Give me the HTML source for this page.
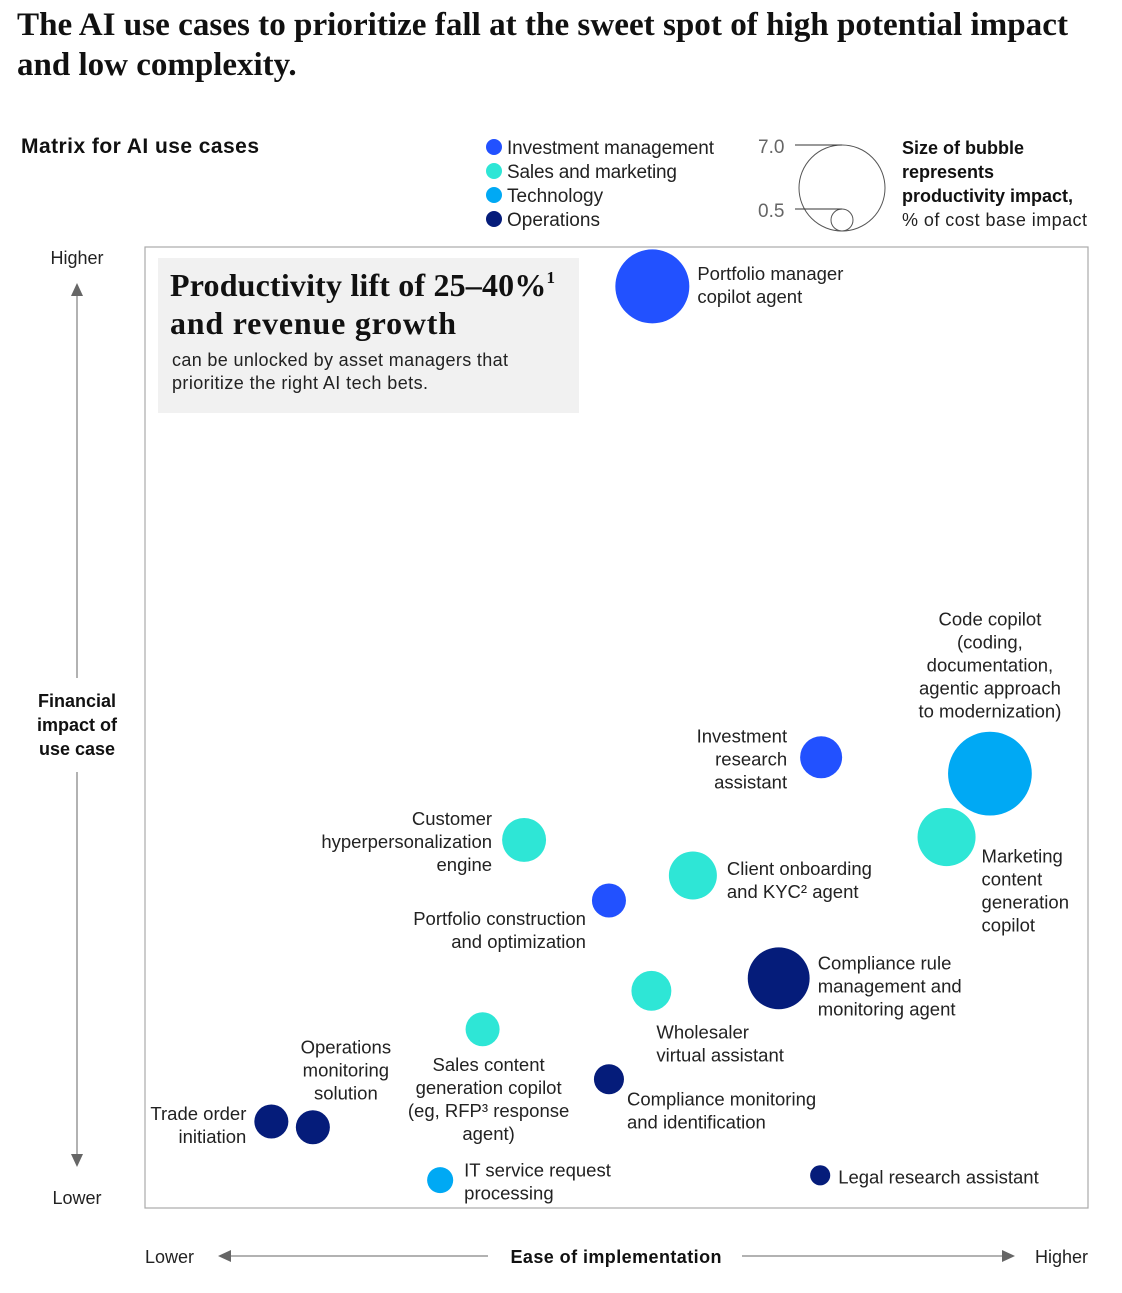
<!DOCTYPE html>
<html><head><meta charset="utf-8">
<style>
body{margin:0;background:#fff;width:1122px;height:1288px;overflow:hidden;font-family:"Liberation Sans",sans-serif;color:#111}
svg text{font-family:"Liberation Sans",sans-serif}
</style></head>
<body>
<svg id="chart" width="1122" height="1288" xmlns="http://www.w3.org/2000/svg">
<text x="17" y="35" style="font-family:'Liberation Serif',serif" font-size="33" font-weight="bold" fill="#111" textLength="1051" lengthAdjust="spacingAndGlyphs">The AI use cases to prioritize fall at the sweet spot of high potential impact</text>
<text x="17" y="75" style="font-family:'Liberation Serif',serif" font-size="33" font-weight="bold" fill="#111">and low complexity.</text>
<text x="21" y="153" font-size="21" font-weight="bold" fill="#111" textLength="238">Matrix for AI use cases</text>
<g>
 <circle cx="494" cy="147" r="8" fill="#2251ff"/><text x="507" y="154" font-size="19" fill="#222" textLength="207">Investment management</text>
 <circle cx="494" cy="171" r="8" fill="#2ee6d6"/><text x="507" y="178" font-size="19" fill="#222" textLength="170">Sales and marketing</text>
 <circle cx="494" cy="195" r="8" fill="#00a9f4"/><text x="507" y="202" font-size="19" fill="#222">Technology</text>
 <circle cx="494" cy="219" r="8" fill="#051c7a"/><text x="507" y="226" font-size="19" fill="#222">Operations</text>
</g>
<g>
 <circle cx="842" cy="188" r="43" fill="none" stroke="#555" stroke-width="1"/>
 <circle cx="842" cy="220" r="11" fill="none" stroke="#555" stroke-width="1"/>
 <line x1="795" y1="145" x2="842" y2="145" stroke="#333"/>
 <line x1="795" y1="209" x2="842" y2="209" stroke="#333"/>
 <text x="758" y="153" font-size="19" fill="#666">7.0</text>
 <text x="758" y="217" font-size="19" fill="#666">0.5</text>
 <text x="902" y="154" font-size="18" font-weight="bold" fill="#111">Size of bubble</text>
 <text x="902" y="178" font-size="18" font-weight="bold" fill="#111">represents</text>
 <text x="902" y="202" font-size="18" font-weight="bold" fill="#111">productivity impact,</text>
 <text x="902" y="226" font-size="18" fill="#222" textLength="185">% of cost base impact</text>
</g>
<rect x="145" y="247" width="943" height="961" fill="none" stroke="#aaa" stroke-width="1.2"/>
<g>
 <rect x="158" y="258" width="421" height="155" fill="#f1f1f1"/>
 <text x="170" y="296" style="font-family:'Liberation Serif',serif" font-size="32" font-weight="bold" fill="#111" textLength="385">Productivity lift of 25–40%<tspan font-size="17" dy="-13">1</tspan></text>
 <text x="170" y="334" style="font-family:'Liberation Serif',serif" font-size="32" font-weight="bold" fill="#111" textLength="286">and revenue growth</text>
 <text x="172" y="366" font-size="18" fill="#222" textLength="336">can be unlocked by asset managers that</text>
 <text x="172" y="389" font-size="18" fill="#222" textLength="256">prioritize the right AI tech bets.</text>
</g>
<g>
 <text x="77" y="264" font-size="18" text-anchor="middle" fill="#222">Higher</text>
 <text x="77" y="1204" font-size="18" text-anchor="middle" fill="#222">Lower</text>
 <line x1="77" y1="290" x2="77" y2="678" stroke="#666"/>
 <polygon points="71,296 83,296 77,283" fill="#666"/>
 <line x1="77" y1="772" x2="77" y2="1160" stroke="#666"/>
 <polygon points="71,1154 83,1154 77,1167" fill="#666"/>
 <text x="77" y="707" font-size="18" font-weight="bold" text-anchor="middle" fill="#111">Financial</text>
 <text x="77" y="731" font-size="18" font-weight="bold" text-anchor="middle" fill="#111">impact of</text>
 <text x="77" y="755" font-size="18" font-weight="bold" text-anchor="middle" fill="#111">use case</text>
</g>
<g>
 <text x="145" y="1263" font-size="18" fill="#222">Lower</text>
 <text x="1088" y="1263" font-size="18" text-anchor="end" fill="#222">Higher</text>
 <line x1="225" y1="1256" x2="488" y2="1256" stroke="#666"/>
 <polygon points="231,1250 231,1262 218,1256" fill="#666"/>
 <line x1="742" y1="1256" x2="1008" y2="1256" stroke="#666"/>
 <polygon points="1002,1250 1002,1262 1015,1256" fill="#666"/>
 <text x="616" y="1263" font-size="18" font-weight="bold" text-anchor="middle" fill="#111" textLength="211">Ease of implementation</text>
</g>
<g id="bubbles"></g>
</svg>
<script>
const useCases=["Portfolio manager copilot agent","Code copilot","Investment research assistant","Marketing content generation copilot","Customer hyperpersonalization engine","Client onboarding and KYC agent","Portfolio construction and optimization","Compliance rule management and monitoring agent","Wholesaler virtual assistant","Sales content generation copilot","Compliance monitoring and identification","Trade order initiation","Operations monitoring solution","IT service request processing","Legal research assistant"];
const ease=[53.8,89.6,71.7,85.0,40.2,58.1,49.2,67.2,53.7,35.8,49.2,13.4,17.8,31.3,71.6];
const impact=[95.9,45.2,46.9,38.6,38.3,34.6,32.0,23.9,22.6,18.6,13.4,9.0,8.4,2.9,3.4];
const productivity=[5.15,6.6,1.66,3.17,1.82,2.17,1.09,3.6,1.5,1.09,0.85,1.09,1.09,0.64,0.38];
const category=["inv","tech","inv","sales","sales","sales","inv","ops","sales","sales","ops","ops","ops","tech","ops"];
const colors={inv:"#2251ff",sales:"#2ee6d6",tech:"#00a9f4",ops:"#051c7a"};
// label layout: lines, anchor, dx, dy (offset of label block centre from bubble centre)
const labelLayout=[
 [["Portfolio manager","copilot agent"],"start",45,-1],
 [["Code copilot","(coding,","documentation,","agentic approach","to modernization)"],"middle",0,-108],
 [["Investment","research","assistant"],"end",-34,2],
 [["Marketing","content","generation","copilot"],"start",35,54],
 [["Customer","hyperpersonalization","engine"],"end",-32,2],
 [["Client onboarding","and KYC\u00b2 agent"],"start",34,5],
 [["Portfolio construction","and optimization"],"end",-23,30],
 [["Compliance rule","management and","monitoring agent"],"start",39,8],
 [["Wholesaler","virtual assistant"],"start",5,53],
 [["Sales content","generation copilot","(eg, RFP\u00b3 response","agent)"],"middle",6,70],
 [["Compliance monitoring","and identification"],"start",18,32],
 [["Trade order","initiation"],"end",-25,4],
 [["Operations","monitoring","solution"],"middle",33,-57],
 [["IT service request","processing"],"start",24,2],
 [["Legal research assistant"],"start",18,2]
];
const X0=145,X1=1088,Y0=1208,Y1=247;
const xs=v=>X0+v/100*(X1-X0);
const ys=v=>Y0-v/100*(Y0-Y1);
const rs=v=>16.3*Math.sqrt(v);
const g=document.getElementById('bubbles');
const NS="http://www.w3.org/2000/svg";
for(let i=0;i<useCases.length;i++){
 const cx=xs(ease[i]),cy=ys(impact[i]);
 const c=document.createElementNS(NS,'circle');
 c.setAttribute('cx',cx);c.setAttribute('cy',cy);c.setAttribute('r',rs(productivity[i]));
 c.setAttribute('fill',colors[category[i]]);
 
 
 g.appendChild(c);
 const L=labelLayout[i];const n=L[0].length;
 const t=document.createElementNS(NS,'text');
 t.setAttribute('font-size','18.5');t.setAttribute('fill','#222');t.setAttribute('text-anchor',L[1]);
 
 
 const startY=cy+L[3]-(n-1)*23/2+6;
 L[0].forEach((s,j)=>{const ts=document.createElementNS(NS,'tspan');ts.setAttribute('x',cx+L[2]);ts.setAttribute('y',startY+j*23);ts.textContent=s;t.appendChild(ts);});
 g.appendChild(t);
}
</script>
</body></html>
